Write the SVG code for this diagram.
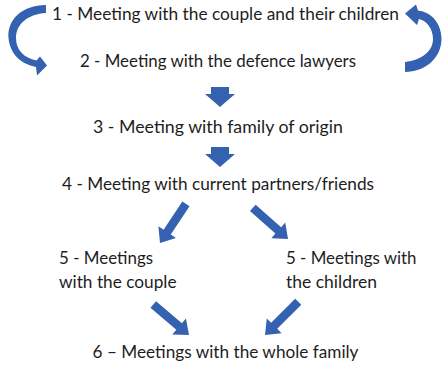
<svg xmlns="http://www.w3.org/2000/svg" width="442" height="379" viewBox="0 0 442 379">
  <style>
    .label { font-family: Lato, "Open Sans", "Liberation Sans", sans-serif; font-size: 17px; fill: #1e1e1e; }
    .arrow { fill: #3461b0; }
  </style>
  <defs>
    <!-- block arrows with the tip at the origin, pointing along +x -->
    <polygon id="down-arrow" points="-20,-9 -13,-9 -13,-15 0,0 -13,15 -13,9 -20,9"/>
    <polygon id="diag-arrow" points="-47,-4.3 -13,-4.3 -13,-10.5 0,0 -13,10.5 -13,4.3 -47,4.3"/>
  </defs>

  <rect width="442" height="379" fill="#ffffff"/>

  <g id="connectors" class="arrow">
    <!-- loop from step 1 down to step 2 (left side) -->
    <path d="M46,5 C22,5 7,20 8.5,38 C10,54 21,64 36,67 L37,75.5 L47,65.5 L40,56.5 L36.5,60.5 C24,58 16,50 16,38 C16,24 28,14 46,13 Z"/>
    <!-- loop from step 2 back up to step 1 (right side) -->
    <path d="M405,62 C422,60 433,51 433,39 C433,29 427,21 419,19 L417,25 L405,13.5 L416,4.5 L418,10.5 C432,12 441.5,24 441.5,39 C441.5,58 425,72 405,72 Z"/>
    <use href="#down-arrow" transform="translate(220,107) rotate(90)"/>
    <use href="#down-arrow" transform="translate(220,167) rotate(90)"/>
    <use href="#diag-arrow" transform="translate(160,243) rotate(123.5)"/>
    <use href="#diag-arrow" transform="translate(288,239) rotate(41.5)"/>
    <use href="#diag-arrow" transform="translate(189,335) rotate(40.5)"/>
    <use href="#diag-arrow" transform="translate(265,335) rotate(135)"/>
  </g>

  <g id="step1">
    <text class="label" x="52" y="20" textLength="347" lengthAdjust="spacingAndGlyphs">1 - Meeting with the couple and their children</text>
  </g>
  <g id="step2">
    <text class="label" x="80" y="67" textLength="276" lengthAdjust="spacingAndGlyphs">2 - Meeting with the defence lawyers</text>
  </g>
  <g id="step3">
    <text class="label" x="93" y="133" textLength="250" lengthAdjust="spacingAndGlyphs">3 - Meeting with family of origin</text>
  </g>
  <g id="step4">
    <text class="label" x="62" y="190" textLength="312" lengthAdjust="spacingAndGlyphs">4 - Meeting with current partners/friends</text>
  </g>
  <g id="step5-couple">
    <text class="label" x="59" y="264" textLength="94" lengthAdjust="spacingAndGlyphs">5 - Meetings</text>
    <text class="label" x="59" y="288" textLength="117.5" lengthAdjust="spacingAndGlyphs">with the couple</text>
  </g>
  <g id="step5-children">
    <text class="label" x="286" y="264" textLength="130.5" lengthAdjust="spacingAndGlyphs">5 - Meetings with</text>
    <text class="label" x="286" y="288" textLength="91" lengthAdjust="spacingAndGlyphs">the children</text>
  </g>
  <g id="step6">
    <text class="label" x="92.5" y="358" textLength="266" lengthAdjust="spacingAndGlyphs">6 – Meetings with the whole family</text>
  </g>
</svg>
